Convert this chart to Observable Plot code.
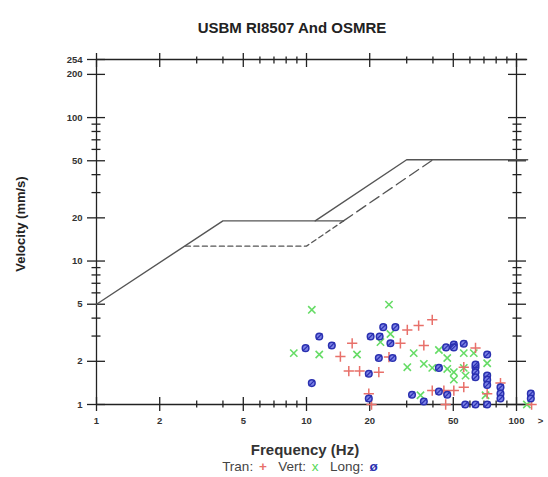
<!DOCTYPE html>
<html>
<head>
<meta charset="utf-8">
<script src="https://cdn.jsdelivr.net/npm/d3@7"></script>
<script src="https://cdn.jsdelivr.net/npm/@observablehq/plot@0.6"></script>
<style>
  body { margin: 0; background: #fff; font-family: "Liberation Sans", Arial, sans-serif; }
  #wrap { width: 548px; height: 477px; position: relative; overflow: hidden; }
  #title { position: absolute; left: 0; width: 584px; top: 19px; text-align: center; font-weight: bold; font-size: 15px; color: #222; }
  #chart { position: absolute; left: 0; top: 45px; }
  #xlabel { position: absolute; left: 0; width: 610px; top: 441px; text-align: center; font-weight: bold; font-size: 15px; color: #333; }
  #legend { position: absolute; left: 0; width: 600px; top: 459px; text-align: center; font-size: 13.5px; color: #444; word-spacing: 2px; }
  #ylabel { position: absolute; left: 20px; top: 224px; transform: translate(-50%, -50%) rotate(-90deg); font-size: 13px; font-weight: bold; color: #222; white-space: nowrap; }
</style>
</head>
<body>
<div id="wrap">
  <div id="title">USBM RI8507 And OSMRE</div>
  <div id="chart"></div>
  <div id="ylabel">Velocity (mm/s)</div>
  <div id="xlabel">Frequency (Hz)</div>
  <div id="legend">Tran: <span style="color:#e8706a;font-weight:bold">+</span>&nbsp; Vert: <span style="color:#55d855">x</span>&nbsp; Long: <span style="color:#2a30b0;font-weight:bold">ø</span></div>
</div>
<script>
// ---- Limit curves ----
const osmreFreq = [1, 4, 11, 30, 113];
const osmreVel  = [5, 19.05, 19.05, 50.8, 50.8];
const usbmSolidFreq = [11, 15];
const usbmSolidVel  = [19.05, 19.05];
const usbmDrywallFreq = [15, 40];
const usbmDrywallVel  = [19.05, 50.8];
const usbmPlasterFreq = [2.65, 10, 15];
const usbmPlasterVel  = [12.7, 12.7, 19.05];

// ---- Measured events ----
const tranFreq = [39.7, 34.2, 30.2, 16.5, 14.5, 28, 36.2, 15.9, 17.9, 22.1, 24.7, 19.8, 20.4, 39.7, 45.1, 50.3, 46, 56.1, 56.1, 63.8, 83.9, 118, 72.5];
const tranVel  = [3.89, 3.55, 3.31, 2.67, 2.16, 2.67, 2.58, 1.71, 1.71, 1.68, 2.14, 1.19, 1.0, 1.25, 1.25, 1.25, 1.0, 1.82, 1.32, 2.48, 1.41, 1.0, 1.19];
const vertFreq = [10.6, 24.7, 8.7, 11.5, 17.4, 22.5, 25.1, 30.2, 32.4, 36.2, 39.7, 42.7, 46.8, 46.8, 50.3, 50.3, 56.1, 57.2, 62.6, 72.5, 72.5, 71.2, 34.9, 112, 56.1];
const vertVel  = [4.57, 4.97, 2.28, 2.23, 2.23, 2.72, 3.1, 1.82, 2.28, 1.92, 1.8, 2.4, 2.11, 1.77, 1.68, 1.49, 2.28, 1.59, 2.28, 1.94, 1.55, 1.16, 1.16, 1.0, 1.8];
const longFreq = [10.6, 9.9, 11.5, 13.2, 20.2, 22.3, 23.2, 26.5, 25.1, 22.1, 25.7, 19.8, 19.8, 31.8, 36.2, 42.7, 42.7, 46.8, 46.2, 50.3, 50.3, 56.1, 63.8, 63.8, 63.8, 63.8, 72.5, 72.5, 72.5, 72.5, 72.5, 63.8, 57, 83.9, 83.9, 83.9, 117, 117];
const longVel  = [1.41, 2.47, 2.98, 2.58, 2.98, 2.98, 3.46, 3.46, 2.67, 2.11, 2.11, 1.64, 1.1, 1.17, 1.05, 1.8, 1.23, 1.17, 2.5, 2.62, 2.5, 2.65, 1.82, 1.68, 1.55, 1.9, 2.23, 1.59, 1.49, 1.37, 1.0, 1.0, 1.0, 1.32, 1.19, 1.1, 1.19, 1.1];

// ---- Axis ticks ----
const xMajor = [1, 2, 5, 10, 20, 50, 100];
const xMinor = [3, 4, 6, 7, 8, 9, 30, 40, 60, 70, 80, 90];
const xLabels = [1, 2, 5, 10, 20, 50, 100, 130];
const xLabelText = ["1", "2", "5", "10", "20", "50", "100", ">"];
const yMajor = [1, 2, 5, 10, 20, 50, 100, 200, 254];
const yMinor = [3, 4, 6, 7, 8, 9, 30, 40, 60, 70, 80, 90];
const yLabels = [1, 2, 5, 10, 20, 50, 100, 200, 254];
const xFrameEnd = 113, xBottomEnd = 118;

const pts = (f, v) => f.map((d, i) => ({f: d, v: v[i]}));
const tran = pts(tranFreq, tranVel), vert = pts(vertFreq, vertVel), lng = pts(longFreq, longVel);

const slash = { draw(ctx, size) { const r = Math.sqrt(size / Math.PI) * 1.15; ctx.moveTo(-r * 0.8, r * 0.8); ctx.lineTo(r * 0.8, -r * 0.8); } };

const ax = "#222";
const lineColor = "#555";
const tickOpts = {tickFormat: () => "", stroke: ax, strokeWidth: 1.3, label: null};
const plot = Plot.plot({
  width: 548, height: 390,
  marginLeft: 96, marginRight: 32, marginTop: 14, marginBottom: 31,
  style: {fontFamily: "'Liberation Sans', Arial, sans-serif", fontSize: "9.5px", fontWeight: "bold", color: "#333", background: "transparent"},
  x: {type: "log", domain: [1, 100], axis: null},
  y: {type: "log", domain: [1, 254], axis: null},
  marks: [
    // frame
    Plot.ruleY([254], {x1: 1, x2: xFrameEnd, stroke: ax, strokeWidth: 1.3}),
    Plot.ruleY([1], {x1: 1, x2: xBottomEnd, stroke: ax, strokeWidth: 1.3}),
    Plot.ruleX([1], {y1: 1, y2: 254, stroke: ax, strokeWidth: 1.3}),
    Plot.ruleX([100], {y1: 1, y2: 254, stroke: ax, strokeWidth: 1.3}),
    // ticks
    Plot.axisX(xMajor, {anchor: "top", tickSize: 14, dy: 7, ...tickOpts}),
    Plot.axisX(xMinor, {anchor: "top", tickSize: 7, dy: 3.5, ...tickOpts}),
    Plot.axisX(xMajor, {anchor: "bottom", tickSize: 14, dy: -7, ...tickOpts}),
    Plot.axisX(xMinor, {anchor: "bottom", tickSize: 7, dy: -3.5, ...tickOpts}),
    Plot.axisY(yMajor, {anchor: "left", tickSize: 18, dx: 9, ...tickOpts}),
    Plot.axisY(yMinor, {anchor: "left", tickSize: 9, dx: 4.5, ...tickOpts}),
    Plot.axisY(yMajor, {anchor: "right", tickSize: 18, dx: -9, ...tickOpts}),
    Plot.axisY(yMinor, {anchor: "right", tickSize: 9, dx: -4.5, ...tickOpts}),
    // tick labels
    Plot.text(xLabels, {x: d => d, text: (d, i) => xLabelText[i], frameAnchor: "bottom", lineAnchor: "top", dy: 13, fill: "#333"}),
    Plot.text(yLabels, {y: d => d, text: d => String(d), frameAnchor: "left", textAnchor: "end", dx: -14, fill: "#333"}),
    // limit curves
    Plot.line(pts(osmreFreq, osmreVel), {x: "f", y: "v", stroke: lineColor, strokeWidth: 1.4}),
    Plot.line(pts(usbmSolidFreq, usbmSolidVel), {x: "f", y: "v", stroke: lineColor, strokeWidth: 1.4}),
    Plot.line(pts(usbmDrywallFreq, usbmDrywallVel), {x: "f", y: "v", stroke: lineColor, strokeWidth: 1.3, strokeDasharray: "11,5"}),
    Plot.line(pts(usbmPlasterFreq, usbmPlasterVel), {x: "f", y: "v", stroke: lineColor, strokeWidth: 1.3, strokeDasharray: "5,3.5"}),
    // data
    Plot.dot(vert, {x: "f", y: "v", symbol: "times", r: 3.4, stroke: "#66dc66", strokeWidth: 1.6}),
    Plot.dot(tran, {x: "f", y: "v", symbol: "plus", r: 3.4, stroke: "#e8706a", strokeWidth: 1.5}),
    Plot.dot(lng, {x: "f", y: "v", r: 3.3, fill: "#7c82e6", stroke: "#2a30b0", strokeWidth: 1.5}),
    Plot.dot(lng, {x: "f", y: "v", symbol: slash, r: 3.3, stroke: "#2a30b0", strokeWidth: 1.2})
  ]
});
document.getElementById("chart").appendChild(plot);
</script>
</body>
</html>
